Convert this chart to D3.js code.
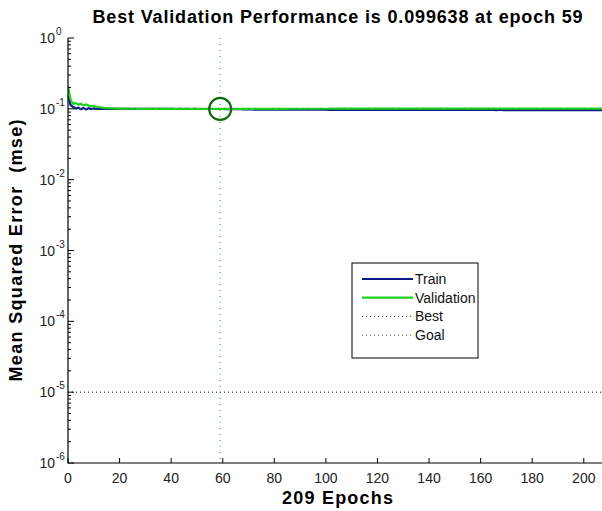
<!DOCTYPE html>
<html>
<head>
<meta charset="utf-8">
<script src="https://cdn.jsdelivr.net/npm/d3@7/dist/d3.min.js"></script>
<style>
  html, body { margin: 0; padding: 0; background: #fff; }
  svg { display: block; font-family: Arial, "Liberation Sans", sans-serif; }
</style>
</head>
<body>
<svg id="chart" width="602" height="511"></svg>
<script>
// Training record: mean squared error per epoch (epochs 0..209)
const trainPerf = [
  0.152,0.113,0.106,0.101,0.104,0.099,0.103,0.098,0.102,0.099,
  0.1012,0.0995,0.1006,0.0998,0.1003,0.0999,0.1001,0.0998,0.1,0.0999,
  0.0998,0.0999,0.0997,0.0998,0.0998,0.0997,0.0998,0.0997,0.0997,0.0998,
  0.0997,0.0996,0.0997,0.0997,0.0996,0.0997,0.0996,0.0996,0.0997,0.0996,
  0.0996,0.0996,0.0995,0.0996,0.0996,0.0995,0.0996,0.0995,0.0995,0.0996,
  0.0995,0.0995,0.0995,0.0994,0.0995,0.0995,0.0994,0.0995,0.0994,0.0994,
  0.0994,0.0993,0.0992,0.0991,0.099,0.0989,0.0988,0.0987,0.0985,0.0984,
  0.0982,0.0979,0.0977,0.0976,0.0975,0.0975,0.0974,0.0974,0.0973,0.0974,
  0.0973,0.0973,0.0972,0.0973,0.0972,0.0972,0.0972,0.0971,0.0972,0.0971,
  0.0971,0.0971,0.0971,0.097,0.0971,0.097,0.097,0.097,0.097,0.097,
  0.097,0.0969,0.097,0.0969,0.0969,0.0969,0.0969,0.0969,0.0968,0.0969,
  0.0968,0.0968,0.0968,0.0968,0.0968,0.0968,0.0967,0.0968,0.0967,0.0967,
  0.0967,0.0967,0.0967,0.0967,0.0967,0.0966,0.0967,0.0966,0.0966,0.0966,
  0.0966,0.0966,0.0966,0.0966,0.0965,0.0966,0.0965,0.0965,0.0965,0.0965,
  0.0965,0.0965,0.0965,0.0965,0.0964,0.0965,0.0964,0.0964,0.0964,0.0964,
  0.0964,0.0964,0.0964,0.0964,0.0964,0.0963,0.0964,0.0963,0.0963,0.0963,
  0.0963,0.0963,0.0963,0.0963,0.0963,0.0963,0.0962,0.0963,0.0962,0.0962,
  0.0962,0.0962,0.0962,0.0962,0.0962,0.0962,0.0962,0.0961,0.0962,0.0961,
  0.0961,0.0961,0.0961,0.0961,0.0961,0.0961,0.0961,0.0961,0.096,0.0961,
  0.096,0.096,0.096,0.096,0.096,0.096,0.096,0.096,0.096,0.096,
  0.096,0.0959,0.096,0.0959,0.0959,0.0959,0.0959,0.0959,0.0959,0.0959
];
const valPerf = [
  0.208,0.134,0.117,0.121,0.114,0.118,0.112,0.115,0.111,0.109,
  0.11,0.107,0.106,0.1045,0.103,0.1025,0.102,0.1015,0.1012,0.101,
  0.1008,0.1006,0.1005,0.1004,0.1003,0.1002,0.1002,0.1001,0.1001,0.1,
  0.1,0.0999,0.1,0.0999,0.0999,0.0999,0.0998,0.0999,0.0998,0.0998,
  0.0998,0.0998,0.0997,0.0998,0.0997,0.0997,0.0997,0.0997,0.0997,0.0997,
  0.0997,0.0997,0.0997,0.0997,0.0997,0.0997,0.0997,0.0997,0.0997,0.099638,
  0.0997,0.0998,0.0997,0.0998,0.0998,0.0998,0.0999,0.0998,0.0999,0.0999,
  0.0999,0.0999,0.1,0.0999,0.1,0.1,0.1,0.1,0.1001,0.1,
  0.1001,0.1001,0.1001,0.1001,0.1002,0.1001,0.1002,0.1002,0.1002,0.1002,
  0.1002,0.1002,0.1003,0.1002,0.1003,0.1003,0.1003,0.1003,0.1003,0.1003,
  0.1003,0.1003,0.1004,0.1003,0.1004,0.1004,0.1004,0.1004,0.1004,0.1004,
  0.1004,0.1004,0.1004,0.1004,0.1005,0.1004,0.1005,0.1005,0.1005,0.1005,
  0.1005,0.1005,0.1005,0.1005,0.1005,0.1005,0.1005,0.1006,0.1005,0.1006,
  0.1006,0.1006,0.1006,0.1006,0.1006,0.1006,0.1006,0.1006,0.1006,0.1006,
  0.1006,0.1006,0.1007,0.1006,0.1007,0.1007,0.1007,0.1007,0.1007,0.1007,
  0.1007,0.1007,0.1007,0.1007,0.1007,0.1007,0.1007,0.1007,0.1008,0.1007,
  0.1008,0.1008,0.1008,0.1008,0.1008,0.1008,0.1008,0.1008,0.1008,0.1008,
  0.1008,0.1008,0.1008,0.1008,0.1008,0.1009,0.1008,0.1009,0.1009,0.1009,
  0.1009,0.1009,0.1009,0.1009,0.1009,0.1009,0.1009,0.1009,0.1009,0.1009,
  0.1009,0.1009,0.1009,0.1009,0.101,0.1009,0.101,0.101,0.101,0.101,
  0.101,0.101,0.101,0.101,0.101,0.101,0.101,0.101,0.101,0.101
];
const bestEpoch = 59;
const bestPerf = 0.099638;
const goalPerf = 1e-5;
const numEpochs = 209;
const xTicks = [0, 20, 40, 60, 80, 100, 120, 140, 160, 180, 200];
const yDecades = [0, -1, -2, -3, -4, -5, -6];
const legendLabels = ["Train", "Validation", "Best", "Goal"];

(function () {
const svg = d3.select("#chart");
const pl = 68, pt = 38, pr = 607, pb = 463;

const x = d3.scaleLinear().domain([0, numEpochs]).range([pl, pr]);
const y = d3.scaleLog().domain([1e-6, 1]).range([pb, pt]);

svg.append("defs").append("clipPath").attr("id", "plotclip")
  .append("rect").attr("x", pl).attr("y", pt - 15).attr("width", pr - pl).attr("height", pb - pt + 15);

const epochs = d3.range(0, numEpochs + 1);
const line = arr => d3.line().x(i => x(i)).y(i => y(arr[i]))(epochs);

const marks = svg.append("g").attr("clip-path", "url(#plotclip)");

// goal line
marks.append("line")
  .attr("x1", pl).attr("x2", pr)
  .attr("y1", y(goalPerf)).attr("y2", y(goalPerf))
  .attr("stroke", "#000").attr("stroke-width", 1).attr("stroke-dasharray", "1,3");

// best epoch vertical line
marks.append("line")
  .attr("x1", x(bestEpoch)).attr("x2", x(bestEpoch))
  .attr("y1", pt).attr("y2", pb)
  .attr("stroke", "#1a9a1a").attr("stroke-width", 1).attr("stroke-dasharray", "1,5");

// performance curves
marks.append("path").attr("d", line(trainPerf))
  .attr("fill", "none").attr("stroke", "#0a1a8c").attr("stroke-width", 2.2);
marks.append("path").attr("d", line(valPerf))
  .attr("fill", "none").attr("stroke", "#1fd11f").attr("stroke-width", 2.2);

marks.append("line")
  .attr("x1", pl).attr("x2", pr)
  .attr("y1", y(bestPerf)).attr("y2", y(bestPerf))
  .attr("stroke", "#1a9a1a").attr("stroke-width", 1).attr("stroke-dasharray", "1,5");

// best point marker
marks.append("circle")
  .attr("cx", x(bestEpoch)).attr("cy", y(bestPerf)).attr("r", 11)
  .attr("fill", "none").attr("stroke", "#0e6a0e").attr("stroke-width", 2.2);

// axes
const axes = svg.append("g").attr("stroke", "#000");
axes.append("line").attr("x1", pl).attr("x2", pl).attr("y1", pt).attr("y2", pb + 0.5).attr("stroke-width", 1.2);
axes.append("line").attr("x1", pl).attr("x2", pr).attr("y1", pb).attr("y2", pb).attr("stroke-width", 1.2);

// x ticks (inward)
xTicks.forEach(t => {
  axes.append("line").attr("x1", x(t)).attr("x2", x(t)).attr("y1", pb).attr("y2", pb - 5).attr("stroke-width", 1);
});
svg.append("g").selectAll("text").data(xTicks).join("text")
  .attr("x", d => x(d)).attr("y", 483)
  .attr("text-anchor", "middle").attr("font-size", 14).attr("fill", "#222")
  .text(d => d);

// y ticks: major decades and minor log ticks (inward)
yDecades.forEach(e => {
  const v = Math.pow(10, e);
  axes.append("line").attr("x1", pl).attr("x2", pl + 6).attr("y1", y(v)).attr("y2", y(v)).attr("stroke-width", 1);
  if (e < 0) {
    for (let k = 2; k <= 9; k++) {
      const mv = k * v;
      axes.append("line").attr("x1", pl).attr("x2", pl + 3).attr("y1", y(mv)).attr("y2", y(mv)).attr("stroke-width", 1);
    }
  }
});
svg.append("g").selectAll("text").data(yDecades).join("text")
  .attr("x", 55).attr("y", d => y(Math.pow(10, d)) + 5)
  .attr("text-anchor", "end").attr("font-size", 14).attr("fill", "#222")
  .text("10");
svg.append("g").selectAll("text").data(yDecades).join("text")
  .attr("x", 56).attr("y", d => y(Math.pow(10, d)) - 3)
  .attr("font-size", 10).attr("fill", "#222")
  .text(d => d);

// titles
svg.append("text").attr("x", (pl + pr) / 2).attr("y", 23)
  .attr("text-anchor", "middle").attr("font-size", 18).attr("font-weight", "bold")
  .attr("textLength", 490).attr("lengthAdjust", "spacing")
  .text(`Best Validation Performance is ${bestPerf} at epoch ${bestEpoch}`);
svg.append("text").attr("x", (pl + pr) / 2).attr("y", 504)
  .attr("text-anchor", "middle").attr("font-size", 18).attr("font-weight", "bold")
  .attr("textLength", 111).attr("lengthAdjust", "spacing")
  .text(`${numEpochs} Epochs`);
svg.append("text").attr("transform", `translate(22,${(pt + pb) / 2}) rotate(-90)`)
  .attr("text-anchor", "middle").attr("font-size", 18).attr("font-weight", "bold")
  .attr("textLength", 262).attr("lengthAdjust", "spacing")
  .style("white-space", "pre")
  .text("Mean Squared Error  (mse)");

// legend
const lg = svg.append("g").attr("transform", "translate(352,263)");
lg.append("rect").attr("width", 126).attr("height", 95)
  .attr("fill", "#fff").attr("stroke", "#000").attr("stroke-width", 1);
const legendStyles = [
  { stroke: "#0a1a8c", width: 2.2, dash: null },
  { stroke: "#1fd11f", width: 2.2, dash: null },
  { stroke: "#444", width: 1, dash: "1,3" },
  { stroke: "#444", width: 1, dash: "1,3" }
];
legendLabels.forEach((name, i) => {
  const cy = 16 + i * 18.7;
  const s = legendStyles[i];
  lg.append("line").attr("x1", 10).attr("x2", 61).attr("y1", cy).attr("y2", cy)
    .attr("stroke", s.stroke).attr("stroke-width", s.width)
    .attr("stroke-dasharray", s.dash);
  lg.append("text").attr("x", 63).attr("y", cy + 5).attr("font-size", 14).attr("fill", "#111").text(name);
});
})();
</script>
</body>
</html>
